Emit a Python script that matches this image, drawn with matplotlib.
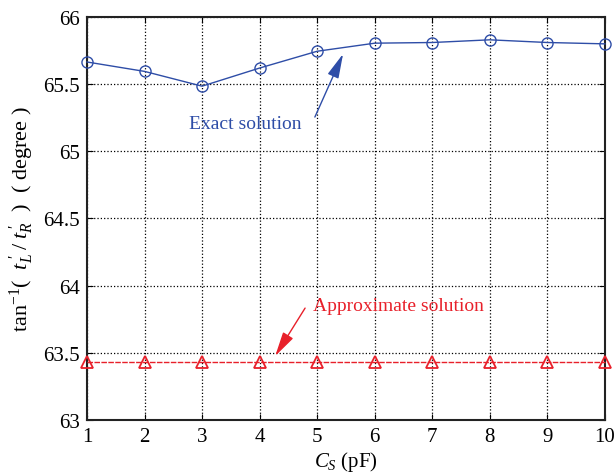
import matplotlib
matplotlib.use("Agg")
import matplotlib.pyplot as plt

cs = [1, 2, 3, 4, 5, 6, 7, 8, 9, 10]
exact = [65.665, 65.595, 65.485, 65.62, 65.745, 65.805, 65.81, 65.83, 65.81, 65.80]
approx = [63.435] * 10
xticks = [1, 2, 3, 4, 5, 6, 7, 8, 9, 10]
yticks = [63, 63.5, 64, 64.5, 65, 65.5, 66]
ytick_labels = ["63", "63.5", "64", "64.5", "65", "65.5", "66"]

blue = "#2E4DA7"
red = "#E8202A"

plt.rcParams["font.family"] = ["Liberation Serif", "DejaVu Serif"]
plt.rcParams["mathtext.fontset"] = "custom"
plt.rcParams["mathtext.rm"] = "Liberation Serif"
plt.rcParams["mathtext.it"] = "Liberation Serif:italic"

fig = plt.figure(figsize=(6.16, 4.77), dpi=100)
ax = fig.add_axes([0.1412, 0.1174, 0.8408, 0.8449])

ax.plot(cs, exact, color=blue, lw=1.0, marker="o", ms=8, mfc="none", mec=blue, mew=1.0, clip_on=False, zorder=3)
ax.plot(cs, approx, color=red, lw=1.0, ls=(0, (4, 1)), marker="^", ms=8, mfc="none", mec=red, mew=1.3, clip_on=False, zorder=3)

ax.set_xlim(1, 10)
ax.set_ylim(63, 66)
ax.set_xticks(xticks)
ax.set_yticks(yticks)
ax.set_yticklabels(ytick_labels)
ax.tick_params(direction="in", top=True, right=True, labelsize=15, length=4, width=0.8, pad=5)
ax.grid(True, color="black", ls=":", lw=0.9)
for s in ax.spines.values():
    s.set_linewidth(1.5)
    s.set_color("#222222")

ax.set_xlabel(r"$C_S$ (pF)", fontsize=15, labelpad=2)
ax.set_ylabel(r"tan$^{-1}$(  $t_L^{\;\prime}\;/\;t_R^{\;\prime}$  )  ( degree )", fontsize=16, labelpad=5)

arrow_style = "-|>,head_length=1.0,head_width=0.24"

ax.text(3.745, 65.21, "Exact solution", color=blue, fontsize=14, ha="center", va="center")
ax.annotate("", xy=(5.45, 65.725), xytext=(4.96, 65.255),
            arrowprops=dict(arrowstyle=arrow_style, color=blue, lw=1.0, mutation_scale=15,
                            shrinkA=0, shrinkB=0))

ax.text(4.93, 63.85, "Approximate solution", color=red, fontsize=14, ha="left", va="center")
ax.annotate("", xy=(4.27, 63.476), xytext=(4.79, 63.833),
            arrowprops=dict(arrowstyle=arrow_style, color=red, lw=1.0, mutation_scale=15,
                            shrinkA=0, shrinkB=0))

fig.savefig("out.png", dpi=100)
